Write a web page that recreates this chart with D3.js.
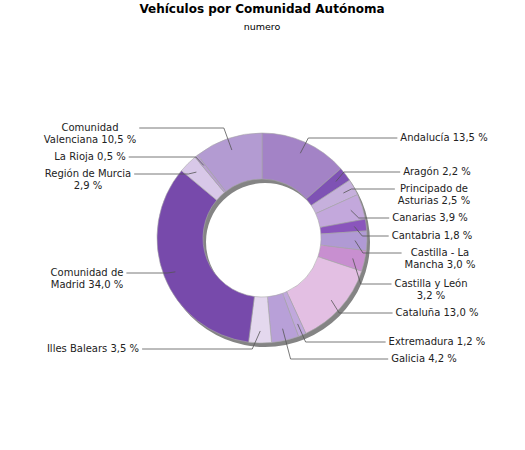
<!DOCTYPE html>
<html><head><meta charset="utf-8">
<script src="https://cdn.jsdelivr.net/npm/d3@7"></script>
<style>body{margin:0;background:#fff}text{font-family:"DejaVu Sans",sans-serif}</style>
</head><body><svg id="c" width="525" height="450"></svg>
<script>
const regions = ["Andalucía","Aragón","Principado de Asturias","Canarias","Cantabria","Castilla - La Mancha","Castilla y León","Cataluña","Extremadura","Galicia","Illes Balears","Comunidad de Madrid","Región de Murcia","La Rioja","Comunidad Valenciana"];
const shares = [13.5,2.2,2.5,3.9,1.8,3.0,3.2,13.0,1.2,4.2,3.5,34.0,2.9,0.5,10.5];
const colors = ["#a383c6","#7e52b4","#c6b0dc","#c3a8dc","#8a55bc","#b09ad4","#c88fd0","#e3bfe3","#c0a8dc","#b8a0d8","#e4d8ee","#774aab","#d8c8e8","#b8a0d0","#b39bd2"];
// label layout: lines, centre x, first baseline y
const labelLines = [["Andalucía 13,5 %"],["Aragón 2,2 %"],["Principado de","Asturias 2,5 %"],["Canarias 3,9 %"],["Cantabria 1,8 %"],["Castilla - La","Mancha 3,0 %"],["Castilla y León","3,2 %"],["Cataluña 13,0 %"],["Extremadura 1,2 %"],["Galicia 4,2 %"],["Illes Balears 3,5 %"],["Comunidad de","Madrid 34,0 %"],["Región de Murcia","2,9 %"],["La Rioja 0,5 %"],["Comunidad","Valenciana 10,5 %"]];
const labelX = [444,437,434,430,432,440,431,437,437,424,93,87,88,90,90];
const labelY = [141,175,192,221,239,256,287,316,345,362,352,276,177,160,131];

const svg = d3.select("#c");
const cx = 262, cy = 238, R = 105, r0 = 59;
svg.append("text").attr("x",cx).attr("y",13).attr("text-anchor","middle").attr("font-size",12).attr("font-weight","bold").text("Vehículos por Comunidad Autónoma");
svg.append("text").attr("x",cx).attr("y",30).attr("text-anchor","middle").attr("font-size",9.5).text("numero");

const data = regions.map((d,i)=>({name:d,v:shares[i],i}));
const arcs = d3.pie().value(d=>d.v).sort(null)(data);
const arc = d3.arc().innerRadius(r0).outerRadius(R);
const g = svg.append("g").attr("transform",`translate(${cx},${cy})`);
g.append("path").attr("d",d3.arc().innerRadius(r0).outerRadius(R).startAngle(0).endAngle(2*Math.PI)())
  .attr("fill","#848484").attr("transform","translate(3,4)");
g.selectAll("path.s").data(arcs).join("path").attr("class","s").attr("d",arc)
  .attr("fill",d=>colors[d.data.i]).attr("stroke","#a8a8a8").attr("stroke-width",0.6);

const ff = 10;
arcs.forEach((a,i)=>{
  const m = (a.startAngle+a.endAngle)/2;
  const right = m < Math.PI;
  const px = cx + 93*Math.sin(m), py = cy - 93*Math.cos(m);
  const lines = labelLines[i];
  const txt = svg.append("text").attr("font-size",ff).attr("fill","#222").attr("text-anchor","middle");
  lines.forEach((l,k)=>txt.append("tspan").attr("x",labelX[i]).attr("y",labelY[i]+k*12).text(l));
  const w = txt.node().getBBox().width;
  const ly = labelY[i] - 3;
  const ex = right ? labelX[i]-w/2-3 : labelX[i]+w/2+3;
  const bx = px + (right?8:-8);
  svg.append("polyline").attr("points",`${px},${py} ${bx},${ly} ${ex},${ly}`)
    .attr("fill","none").attr("stroke","#555").attr("stroke-width",0.8);
});
</script></body></html>
